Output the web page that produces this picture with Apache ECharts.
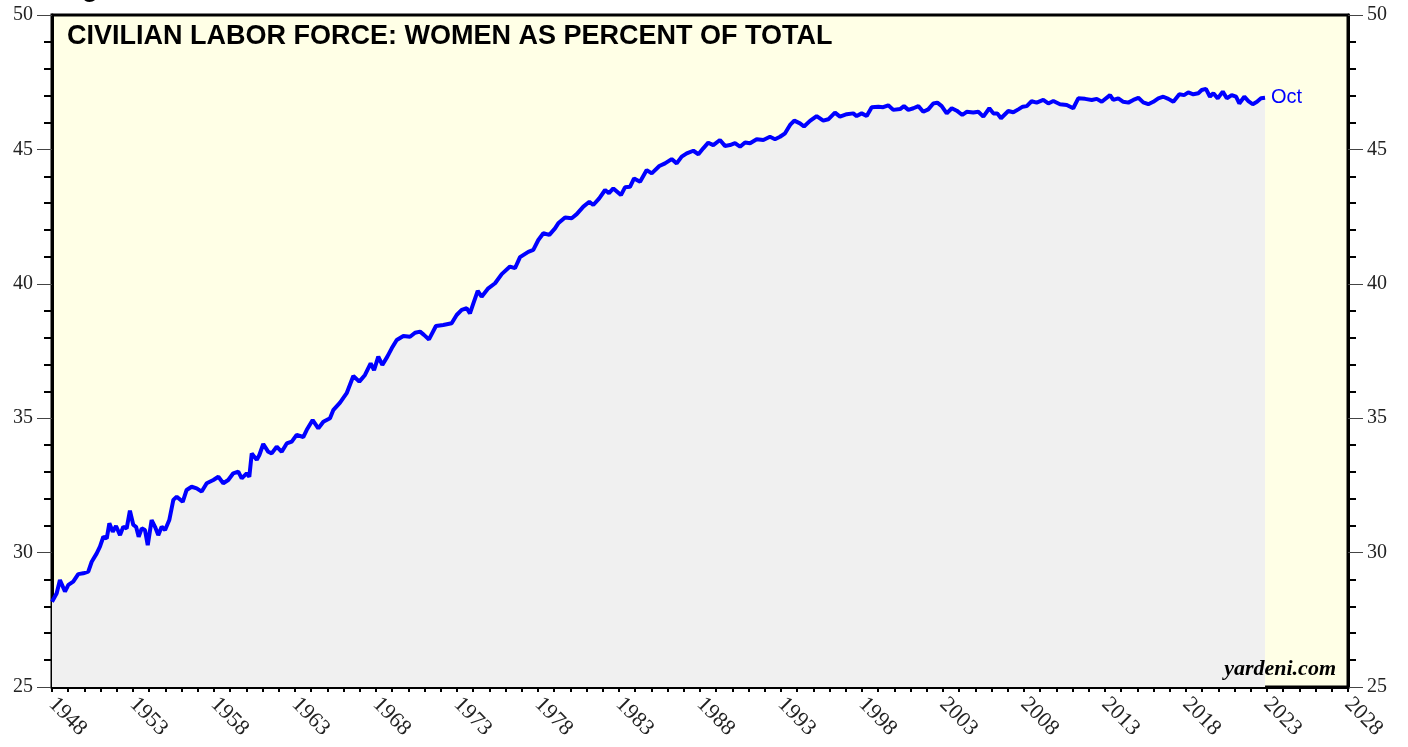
<!DOCTYPE html>
<html>
<head>
<meta charset="utf-8">
<script src="https://cdn.jsdelivr.net/npm/echarts@6/dist/echarts.min.js"></script>
<style>
html,body{margin:0;padding:0;background:#fff;}
#chart{width:1408px;height:747px;}
</style>
</head>
<body>
<div id="chart"></div>
<script>
const title = 'CIVILIAN LABOR FORCE: WOMEN AS PERCENT OF TOTAL';
const lastLabel = 'Oct';
const source = 'yardeni.com';
const xTicks = [1948, 1953, 1958, 1963, 1968, 1973, 1978, 1983, 1988, 1993, 1998, 2003, 2008, 2013, 2018, 2023, 2028];
const yTicks = [25, 30, 35, 40, 45, 50];

const years = [
1948.00,1948.29,1948.49,1948.80,1949.01,1949.31,1949.62,1949.93,1950.24,1950.45,1950.76,1950.96,
1951.17,1951.38,1951.54,1951.75,1951.95,1952.20,1952.40,1952.61,1952.81,1953.02,1953.19,1953.35,
1953.54,1953.74,1953.91,1954.15,1954.36,1954.56,1954.77,1954.98,1955.24,1955.49,1955.70,1956.07,
1956.31,1956.62,1956.93,1957.24,1957.55,1957.96,1958.27,1958.57,1958.88,1959.19,1959.50,1959.71,
1960.02,1960.18,1960.33,1960.64,1960.80,1961.04,1961.35,1961.56,1961.87,1962.18,1962.49,1962.80,
1963.10,1963.51,1963.72,1964.09,1964.44,1964.75,1965.16,1965.36,1965.78,1966.19,1966.60,1966.97,
1967.32,1967.67,1967.88,1968.14,1968.39,1968.70,1968.97,1969.28,1969.69,1970.10,1970.41,1970.72,
1970.96,1971.27,1971.70,1972.15,1972.67,1972.98,1973.29,1973.60,1973.80,1974.01,1974.28,1974.52,
1974.93,1975.35,1975.76,1976.27,1976.58,1976.89,1977.40,1977.71,1978.02,1978.33,1978.70,1979.05,
1979.25,1979.67,1980.08,1980.39,1980.80,1981.17,1981.41,1981.78,1982.14,1982.38,1982.65,1983.12,
1983.37,1983.68,1983.93,1984.30,1984.71,1985.02,1985.49,1985.84,1986.25,1986.56,1986.87,1987.18,
1987.59,1987.90,1988.20,1988.51,1988.82,1989.23,1989.54,1989.85,1990.16,1990.47,1990.78,1991.09,
1991.50,1991.91,1992.32,1992.63,1992.94,1993.25,1993.56,1993.82,1994.17,1994.42,1994.79,1995.20,
1995.61,1995.92,1996.33,1996.64,1997.06,1997.46,1997.67,1997.98,1998.29,1998.60,1999.01,1999.31,
1999.62,1999.93,2000.35,2000.59,2000.86,2001.17,2001.48,2001.78,2002.09,2002.40,2002.65,2002.92,
2003.23,2003.54,2003.85,2004.19,2004.46,2004.87,2005.18,2005.49,2005.86,2006.11,2006.35,2006.58,
2007.03,2007.34,2007.65,2007.92,2008.17,2008.47,2008.78,2009.19,2009.50,2009.81,2010.22,2010.64,
2011.04,2011.35,2011.77,2012.18,2012.49,2012.80,2013.31,2013.51,2013.82,2014.13,2014.44,2014.75,
2015.06,2015.36,2015.67,2015.98,2016.29,2016.60,2016.91,2017.22,2017.59,2017.88,2018.14,2018.45,
2018.76,2018.97,2019.23,2019.48,2019.69,2019.96,2020.27,2020.52,2020.82,2021.09,2021.29,2021.60,
2021.85,2022.12,2022.38,2022.63,2022.88
];
const values = [
28.17,28.49,28.98,28.55,28.80,28.92,29.20,29.23,29.29,29.66,29.97,30.22,
30.59,30.53,31.09,30.78,30.99,30.65,30.96,30.90,31.56,31.03,30.96,30.59,
30.90,30.84,30.28,31.21,30.96,30.65,30.96,30.84,31.21,31.96,32.08,31.89,
32.33,32.45,32.39,32.27,32.58,32.70,32.82,32.58,32.70,32.95,33.01,32.76,
32.95,32.82,33.69,33.45,33.63,34.04,33.75,33.69,33.94,33.75,34.06,34.13,
34.38,34.30,34.56,34.93,34.62,34.87,35.00,35.30,35.58,35.93,36.57,36.36,
36.61,37.04,36.79,37.29,36.98,37.29,37.60,37.91,38.06,38.03,38.18,38.22,
38.10,37.93,38.43,38.47,38.53,38.84,39.03,39.09,38.90,39.27,39.74,39.52,
39.83,40.02,40.36,40.64,40.58,40.99,41.19,41.26,41.63,41.88,41.82,42.06,
42.25,42.47,42.44,42.59,42.87,43.05,42.93,43.18,43.49,43.37,43.55,43.30,
43.59,43.61,43.92,43.80,44.23,44.11,44.38,44.48,44.64,44.48,44.73,44.85,
44.95,44.82,45.04,45.25,45.16,45.35,45.13,45.16,45.23,45.10,45.26,45.23,
45.38,45.35,45.47,45.38,45.47,45.60,45.91,46.07,45.97,45.85,46.06,46.24,
46.07,46.12,46.37,46.22,46.31,46.34,46.24,46.34,46.24,46.57,46.59,46.57,
46.64,46.47,46.50,46.61,46.47,46.53,46.61,46.40,46.49,46.71,46.74,46.61,
46.34,46.53,46.44,46.28,46.40,46.37,46.40,46.22,46.53,46.34,46.34,46.16,
46.43,46.38,46.49,46.59,46.61,46.79,46.74,46.84,46.71,46.80,46.68,46.65,
46.53,46.90,46.88,46.84,46.88,46.77,47.02,46.84,46.90,46.77,46.74,46.84,
46.92,46.75,46.68,46.77,46.90,46.96,46.88,46.77,47.05,47.02,47.12,47.05,
47.09,47.21,47.25,46.96,47.09,46.90,47.15,46.90,47.02,46.96,46.71,46.96,
46.80,46.68,46.77,46.90,46.92
];

const data = years.map((y, i) => [y, values[i]]);
const serif = '"Liberation Serif", "DejaVu Serif", serif';
const sans = '"Liberation Sans", Arial, sans-serif';

const chart = echarts.init(document.getElementById('chart'), null, {renderer: 'canvas'});

function yAxisDef(pos) {
  return {
    type: 'value', position: pos, min: 25, max: 50, interval: 5,
    axisLine: {show: true, lineStyle: {color: '#000', width: 3}},
    axisTick: {show: true, inside: false, length: 15, lineStyle: {color: '#444', width: 1}},
    minorTick: {show: true, splitNumber: 5, length: 8, lineStyle: {color: '#000', width: 2}},
    splitLine: {show: false},
    axisLabel: {
      margin: 19, fontFamily: serif, fontSize: 20, color: '#222',
      formatter: v => yTicks.includes(v) ? String(v) : ''
    }
  };
}

chart.setOption({
  animation: false,
  backgroundColor: '#ffffff',
  grid: {
    left: 52, right: 60, top: 15, bottom: 60,
    show: true, backgroundColor: '#FFFFE6', borderColor: '#000', borderWidth: 3
  },
  xAxis: {
    type: 'value', min: 1948, max: 2028, interval: 5,
    axisLine: {show: true, onZero: false, lineStyle: {color: '#000', width: 3}},
    axisTick: {show: true, length: 5, lineStyle: {color: '#000', width: 2}},
    minorTick: {show: true, splitNumber: 5, length: 5, lineStyle: {color: '#000', width: 2}},
    splitLine: {show: false},
    axisLabel: {
      rotate: -45, margin: 14, fontFamily: serif, fontSize: 22, color: '#222',
      formatter: v => xTicks.includes(v) ? String(v) : ''
    }
  },
  yAxis: [yAxisDef('left'), yAxisDef('right')],
  graphic: [
    {type: 'text', left: 67, top: 23, z: 100, style: {text: title, font: 'bold 27px ' + sans, fill: '#000'}},
    {type: 'text', right: 72, top: 658, z: 100, style: {text: source, font: 'italic bold 22px ' + serif, fill: '#000'}},
    {type: 'text', left: 82, top: -23, z: 100, style: {text: 'g', font: 'bold 26px ' + sans, fill: '#000'}}
  ],
  series: [{
    type: 'line',
    data: data,
    showSymbol: false,
    symbol: 'none',
    lineStyle: {color: '#0000FF', width: 4},
    areaStyle: {color: '#F0F0F0', opacity: 1, origin: 'start'},
    z: 3,
    endLabel: {
      show: true, formatter: lastLabel, color: '#0000FF',
      fontFamily: sans, fontSize: 20, distance: 6
    }
  }]
});
</script>
</body>
</html>
